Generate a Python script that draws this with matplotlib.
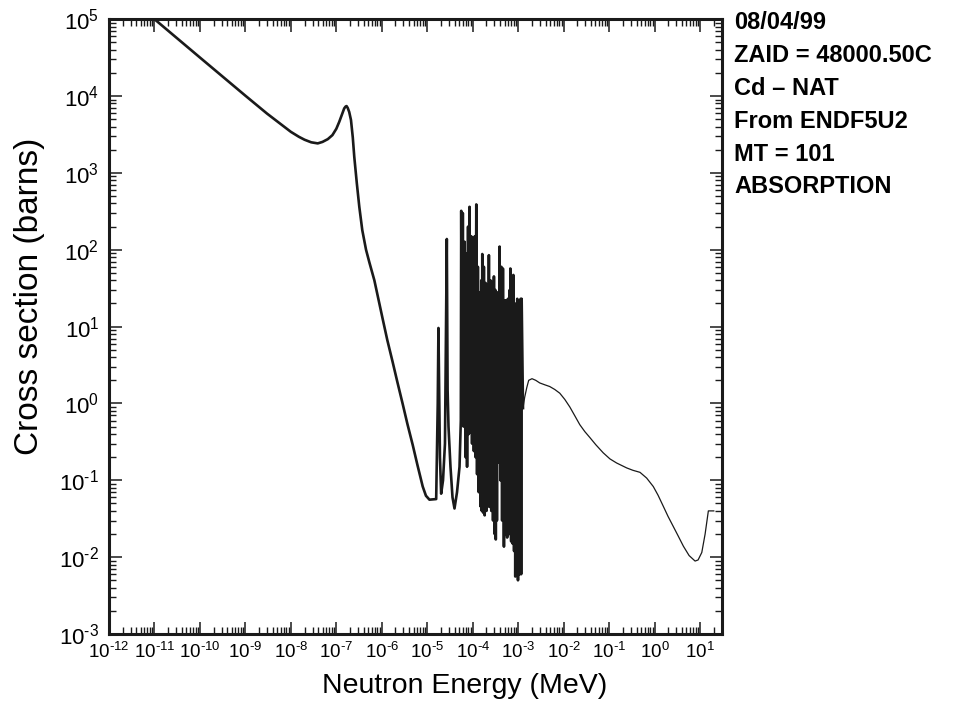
import numpy as np
import matplotlib
matplotlib.use('Agg')
import matplotlib.pyplot as plt
from matplotlib.ticker import LogLocator, NullFormatter, FuncFormatter

plt.rcParams['font.family'] = ['Liberation Sans', 'DejaVu Sans']
plt.rcParams['mathtext.default'] = 'regular'

# thermal region + first resonance (MeV, barns)
e_thermal = [1e-11, 1e-10, 1e-9, 3e-9, 1e-8, 1.5e-8, 2e-8, 2.8e-8, 3.9e-8, 4.97e-8,
             6.5e-8, 8.2e-8, 1.0e-7, 1.16e-7, 1.32e-7, 1.49e-7, 1.6e-7, 1.68e-7,
             1.78e-7, 1.92e-7, 2.1e-7, 2.3e-7, 2.48e-7, 2.82e-7, 3.2e-7, 3.72e-7,
             4.5e-7, 5.31e-7, 6.86e-7, 8.39e-7, 1.045e-6, 1.32e-6, 1.73e-6, 2.2e-6,
             2.88e-6, 3.66e-6, 4.79e-6, 6.08e-6, 7.94e-6, 9.35e-6, 1.117e-5, 1.57e-5]
xs_thermal = [1e5, 3.17e4, 1.01e4, 5.9e3, 3.42e3, 2.95e3, 2.7e3, 2.5e3, 2.42e3, 2.53e3,
              2.75e3, 3.1e3, 3.75e3, 4.62e3, 5.7e3, 6.9e3, 7.3e3, 7.4e3,
              7.0e3, 6.2e3, 4.87e3, 2.9e3, 1.62e3, 736, 362, 180,
              100, 69, 40, 22.9, 12.6, 6.7, 3.47, 1.9,
              0.985, 0.54, 0.288, 0.158, 0.083, 0.063, 0.056, 0.057]

# first isolated resonances
e_low_res = [1.70e-5, 1.76e-5, 1.84e-5, 1.90e-5, 2.02e-5, 2.22e-5, 2.45e-5, 2.69e-5,
             2.80e-5, 2.93e-5, 3.24e-5, 3.59e-5, 3.97e-5, 4.51e-5, 5.12e-5, 5.47e-5]
xs_low_res = [1.0, 9.6, 1.0, 0.2, 0.067, 0.1, 0.3, 138,
              1.5, 0.5, 0.15, 0.06, 0.043, 0.07, 0.15, 0.6]

# resolved resonance forest (peak / valley pairs)
e_forest = [5.58e-5, 5.81e-5, 6.05e-5, 6.28e-5, 6.61e-5, 6.95e-5, 7.19e-5, 7.50e-5,
            7.89e-5, 8.20e-5, 8.51e-5, 8.87e-5, 9.27e-5, 9.66e-5, 1.007e-4, 1.059e-4,
            1.109e-4, 1.153e-4, 1.197e-4, 1.245e-4, 1.297e-4, 1.358e-4, 1.413e-4, 1.472e-4,
            1.542e-4, 1.581e-4, 1.622e-4, 1.690e-4, 1.758e-4, 1.832e-4, 1.919e-4, 2.009e-4,
            2.089e-4, 2.178e-4, 2.265e-4, 2.360e-4, 2.460e-4, 2.559e-4, 2.679e-4, 2.793e-4,
            2.924e-4, 3.027e-4, 3.141e-4, 3.214e-4, 3.281e-4, 3.404e-4, 3.581e-4, 3.750e-4,
            3.899e-4, 4.064e-4, 4.256e-4, 4.426e-4, 4.613e-4, 4.853e-4, 5.023e-4, 5.236e-4,
            5.483e-4, 5.715e-4, 5.943e-4, 6.223e-4, 6.486e-4, 6.622e-4, 6.714e-4, 6.998e-4,
            7.328e-4, 7.551e-4, 7.816e-4, 8.110e-4, 8.356e-4, 8.610e-4, 8.974e-4, 9.247e-4,
            9.528e-4, 9.886e-4, 1.035e-3, 1.076e-3, 1.132e-3, 1.161e-3, 1.191e-3, 1.274e-3]
xs_forest = [321, 0.62, 300, 0.5, 127, 0.2, 90, 0.15,
             200, 0.4, 362, 0.42, 150, 0.3, 60, 0.24,
             150, 0.2, 389, 0.12, 60, 0.07, 28, 0.046,
             40, 0.04, 88, 0.038, 60, 0.035, 37, 0.04,
             35, 0.046, 85, 0.045, 40, 0.04, 38, 0.03,
             45, 0.02, 30, 0.017, 8.2, 0.03, 28, 0.17,
             110, 0.1, 60, 0.03, 57, 0.0137, 22, 0.02,
             22, 0.018, 23, 0.02, 30, 0.02, 57, 0.016,
             40, 0.015, 47, 0.012, 15, 0.0056, 20, 0.008,
             23, 0.005, 20, 0.006, 23, 0.006, 23, 0.87]

# smooth part above the resolved range
e_fast = [1.274e-3, 1.387e-3, 1.54e-3, 1.70e-3, 2.01e-3, 2.43e-3, 2.97e-3, 3.83e-3,
          4.94e-3, 6.37e-3, 8.20e-3, 1.057e-2, 1.365e-2, 1.76e-2, 2.26e-2, 2.92e-2,
          3.77e-2, 5.1e-2, 7.40e-2, 0.104, 0.146, 0.243, 0.333, 0.477,
          0.668, 0.935, 1.19, 1.55, 1.97, 2.58, 3.28, 4.29,
          5.73, 7.76, 9.04, 10.9, 12.9, 15.2, 20.0]
xs_fast = [0.87, 1.2, 1.6, 2.0, 2.1, 2.0, 1.85, 1.75,
           1.66, 1.52, 1.36, 1.13, 0.90, 0.69, 0.53, 0.43,
           0.36, 0.29, 0.228, 0.19, 0.168, 0.145, 0.135, 0.127,
           0.107, 0.083, 0.064, 0.046, 0.034, 0.025, 0.019, 0.0139,
           0.0105, 0.0089, 0.0092, 0.0115, 0.02, 0.040, 0.040]

info_lines = ['08/04/99', 'ZAID = 48000.50C', 'Cd \u2013 NAT', 'From ENDF5U2',
              'MT = 101', 'ABSORPTION']


def pow10_label(v, pos):
    n = int(round(np.log10(v)))
    s = str(n).replace('-', '\u2010')
    return '$\\mathdefault{10^{' + s + '}}$'


fig = plt.figure(figsize=(9.56, 7.10), dpi=100)
ax = fig.add_axes([0.114, 0.107, 0.641, 0.866])

e_thick = e_thermal + e_low_res + e_forest
xs_thick = xs_thermal + xs_low_res + xs_forest
ax.plot(e_thick, xs_thick, color='#1a1a1a', lw=1.9, solid_joinstyle='round')
ax.plot(e_fast, xs_fast, color='#1a1a1a', lw=0.9)

ax.set_xscale('log')
ax.set_yscale('log')
ax.set_xlim(1e-12, 30)
ax.set_ylim(1e-3, 1e5)

for axis in (ax.xaxis, ax.yaxis):
    axis.set_major_locator(LogLocator(base=10, numticks=30))
    axis.set_minor_locator(LogLocator(base=10, subs=np.arange(2, 10), numticks=30))
    axis.set_minor_formatter(NullFormatter())
    axis.set_major_formatter(FuncFormatter(pow10_label))

ax.tick_params(which='both', direction='in', top=True, right=True, color='#1a1a1a')
ax.tick_params(which='major', length=9, width=1.1)
ax.tick_params(which='minor', length=5, width=1.0)
ax.tick_params(axis='x', which='major', labelsize=13.5, pad=6)
ax.tick_params(axis='y', which='major', labelsize=16, pad=7)
for s in ax.spines.values():
    s.set_linewidth(2.2)
    s.set_color('#1a1a1a')

ax.set_xlabel('Neutron Energy (MeV)', fontsize=20.5)
ax.set_ylabel('Cross section (barns)', fontsize=24)
ax.xaxis.set_label_coords(0.581, -0.063)
ax.yaxis.set_label_coords(-0.104, 0.55)

for i, line in enumerate(info_lines):
    fig.text(0.768, 0.984 - i * 0.0462, line, fontsize=17, fontweight='bold',
             va='top', ha='left')

fig.savefig('out.png', dpi=100)
